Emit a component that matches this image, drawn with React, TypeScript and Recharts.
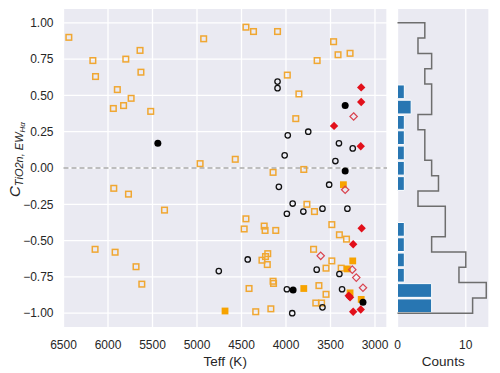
import React from 'react'
import {
  ScatterChart, Scatter, ComposedChart, Bar, Line, XAxis, YAxis, CartesianGrid, ReferenceLine,
} from 'recharts'

// [Teff (K), C]
const openSquares: [number, number][] = [
  [6440, 0.9], [6170, 0.74], [6140, 0.63], [5800, 0.75], [5640, 0.81], [5630, 0.66],
  [5895, 0.54], [5740, 0.48], [5825, 0.43], [5940, 0.41], [5520, 0.39], [4925, 0.89],
  [4965, 0.03], [4570, 0.06], [4450, 0.97], [4365, 0.94], [4095, 0.94], [3465, 0.87],
  [3415, 0.78], [3280, 0.79], [3650, 0.74], [3985, 0.64], [3855, 0.51], [3890, 0.34],
  [4145, -0.03], [3800, -0.01], [5935, -0.14], [5770, -0.18], [5365, -0.29], [4450, -0.35],
  [4470, -0.42], [6145, -0.56], [5920, -0.58], [5685, -0.68], [5620, -0.8], [3765, -0.25],
  [3680, -0.3], [4245, -0.4], [4235, -0.43], [4115, -0.43], [3485, -0.39], [3400, -0.46],
  [3320, -0.49], [3690, -0.56], [4205, -0.59], [4230, -0.61], [4270, -0.635], [4210, -0.665],
  [3485, -0.64], [3550, -0.69], [3380, -0.69], [4415, -0.83], [4145, -0.78], [4140, -0.795],
  [3630, -0.81], [3550, -0.87], [3665, -0.93], [3600, -0.93], [4340, -0.99], [4170, -0.97],
]
const filledSquares: [number, number][] = [
  [4685, -0.985], [3355, -0.115], [3250, -0.64], [3310, -0.695], [3800, -0.83], [3280, -0.86], [3155, -0.905],
]
const openCircles: [number, number][] = [
  [4095, 0.595], [4095, 0.55], [3980, 0.225], [3750, 0.25], [3405, 0.17], [3250, 0.135],
  [4015, 0.087], [3445, 0.048], [4755, -0.71], [4080, -0.13], [3515, -0.115], [3925, -0.245],
  [3990, -0.315], [3805, -0.3], [3590, -0.28], [3310, -0.28], [4430, -0.63], [3655, -0.7],
  [3400, -0.73], [3990, -0.835], [3370, -0.835], [3590, -0.96], [3930, -1.0],
]
const filledCircles: [number, number][] = [
  [5440, 0.17], [3335, 0.43], [3335, -0.02], [3920, -0.84], [3135, -0.925],
]
const filledDiamonds: [number, number][] = [
  [3155, 0.555], [3155, 0.455], [3460, 0.29], [3160, 0.15], [3150, -0.415],
  [3245, -0.525], [3295, -0.88], [3280, -0.89], [3245, -0.99], [3160, -0.975],
]
const openDiamonds: [number, number][] = [
  [3240, 0.355], [3335, -0.15], [3610, -0.605], [3255, -0.7], [3210, -0.755], [3135, -0.825],
]

// histogram counts, top bin (C near 1) to bottom bin (C near -1)
const allCounts = [4, 3, 5, 4, 5, 5, 3, 4, 4, 5, 6, 3, 7, 7, 5, 10, 9, 13, 11]
const filledCounts = [0, 0, 0, 0, 1, 2, 1, 1, 1, 1, 1, 0, 0, 1, 1, 1, 1, 5, 5]

const teffTicks = [3000, 3500, 4000, 4500, 5000, 5500, 6000, 6500]
const cTicks = [-1, -0.75, -0.5, -0.25, 0, 0.25, 0.5, 0.75, 1]
const countTicks = [0, 10]

const nBins = allCounts.length
const edges = Array.from({ length: nBins + 1 }, (_, k) => 1 - (2 * k) / nBins)
const barData = allCounts.map((_, k) => ({ y: (edges[k] + edges[k + 1]) / 2, blue: filledCounts[k] }))
const stepData = [
  { y: edges[0], count: 0 },
  ...allCounts.map((n, k) => ({ y: edges[k + 1], count: n })),
  { y: edges[nBins], count: 0 },
]

const toPoints = (arr: [number, number][]) => arr.map(([teff, c]) => ({ teff, c }))

const FONT = 'Liberation Sans, Arial, sans-serif'
const TXT = '#262626'
const BG = '#eaeaf2'

const fmt = (v: number) => (v < 0 ? '\u2212' + Math.abs(v).toFixed(2) : v.toFixed(2))

const OpenSquare = (p: any) => (
  <rect x={p.cx - 2.8} y={p.cy - 2.8} width={5.6} height={5.6} fill="none" stroke="#f0a732" strokeWidth={1.5} />
)
const FilledSquare = (p: any) => (
  <rect x={p.cx - 3.4} y={p.cy - 3.4} width={6.8} height={6.8} fill="#f7a300" />
)
const OpenCircle = (p: any) => (
  <circle cx={p.cx} cy={p.cy} r={2.7} fill="none" stroke="#111" strokeWidth={1.3} />
)
const FilledCircle = (p: any) => <circle cx={p.cx} cy={p.cy} r={3.5} fill="#000" />
const diamond = (cx: number, cy: number, r: number) =>
  `${cx},${cy - r} ${cx + r},${cy} ${cx},${cy + r} ${cx - r},${cy}`
const FilledDiamond = (p: any) => <polygon points={diamond(p.cx, p.cy, 4.2)} fill="#e2101b" />
const OpenDiamond = (p: any) => (
  <polygon points={diamond(p.cx, p.cy, 3.7)} fill="none" stroke="#d9434f" strokeWidth={1.2} />
)

const yTitle = () => (
  <text transform="translate(20,197) rotate(-90)" fontFamily={FONT} fill={TXT} fontStyle="italic">
    <tspan fontSize={15}>C</tspan>
    <tspan fontSize={11} dy={3}>TiO2n, EW</tspan>
    <tspan fontSize={8} dy={2}>{'H\u03b1'}</tspan>
  </text>
)

const bottomTitle = (text: string) => (props: any) => {
  const vb = props.viewBox
  return (
    <text x={vb.x + vb.width / 2} y={vb.y + 38} textAnchor="middle" fontFamily={FONT} fontSize={13.5} fill={TXT}>
      {text}
    </text>
  )
}

const tickStyle = { fontSize: 12, fill: TXT, fontFamily: FONT }

export default function App() {
  return (
    <div style={{ position: 'absolute', left: 0, top: 0, width: 500, height: 373, background: '#fff' }}>
      <div style={{ position: 'absolute', left: 0, top: 0 }}>
        <ScatterChart width={392} height={373} margin={{ top: 8.3, right: 5, bottom: 5.3, left: 7.5 }}>
          <CartesianGrid fill={BG} stroke="#fff" strokeWidth={1.3} />
          <XAxis
            type="number" dataKey="teff" domain={[2865, 6500]} reversed ticks={teffTicks}
            axisLine={false} tickLine={false} tickSize={0} tickMargin={13} height={40}
            tick={tickStyle} label={bottomTitle('Teff (K)')}
          />
          <YAxis
            type="number" dataKey="c" domain={[-1.1, 1.1]} ticks={cTicks} tickFormatter={fmt}
            axisLine={false} tickLine={false} tickSize={0} tickMargin={10} width={56}
            tick={tickStyle} label={yTitle}
          />
          <ReferenceLine y={0} stroke="#a9a9a9" strokeWidth={1.5} strokeDasharray="5 3" />
          <Scatter data={toPoints(openSquares)} shape={OpenSquare} isAnimationActive={false} />
          <Scatter data={toPoints(filledSquares)} shape={FilledSquare} isAnimationActive={false} />
          <Scatter data={toPoints(openCircles)} shape={OpenCircle} isAnimationActive={false} />
          <Scatter data={toPoints(filledCircles)} shape={FilledCircle} isAnimationActive={false} />
          <Scatter data={toPoints(openDiamonds)} shape={OpenDiamond} isAnimationActive={false} />
          <Scatter data={toPoints(filledDiamonds)} shape={FilledDiamond} isAnimationActive={false} />
        </ScatterChart>
      </div>
      <div style={{ position: 'absolute', left: 392, top: 0 }}>
        <ComposedChart
          layout="vertical" width={108} height={373} data={barData}
          margin={{ top: 8.3, right: 11, bottom: 5.3, left: 5.5 }}
        >
          <CartesianGrid fill={BG} stroke="#fff" strokeWidth={1.3} />
          <XAxis
            type="number" domain={[0, 13.4]} ticks={countTicks}
            axisLine={false} tickLine={false} tickSize={0} tickMargin={13} height={40}
            tick={tickStyle} label={bottomTitle('Counts')}
          />
          <YAxis
            type="number" dataKey="y" domain={[-1.1, 1.1]} ticks={cTicks} reversed
            axisLine={false} tickLine={false} tick={false} width={0}
          />
          <YAxis
            yAxisId="step" type="number" dataKey="y" domain={[-1.1, 1.1]} reversed
            axisLine={false} tickLine={false} tick={false} width={0}
          />
          <Line
            yAxisId="step" data={stepData} dataKey="count" type="stepAfter" stroke="#6e6e6e" strokeWidth={1.5}
            dot={false} isAnimationActive={false}
          />
          <Bar dataKey="blue" fill="#2876b2" stroke="#fff" strokeWidth={1} barSize={15.3} isAnimationActive={false} />
        </ComposedChart>
      </div>
    </div>
  )
}
